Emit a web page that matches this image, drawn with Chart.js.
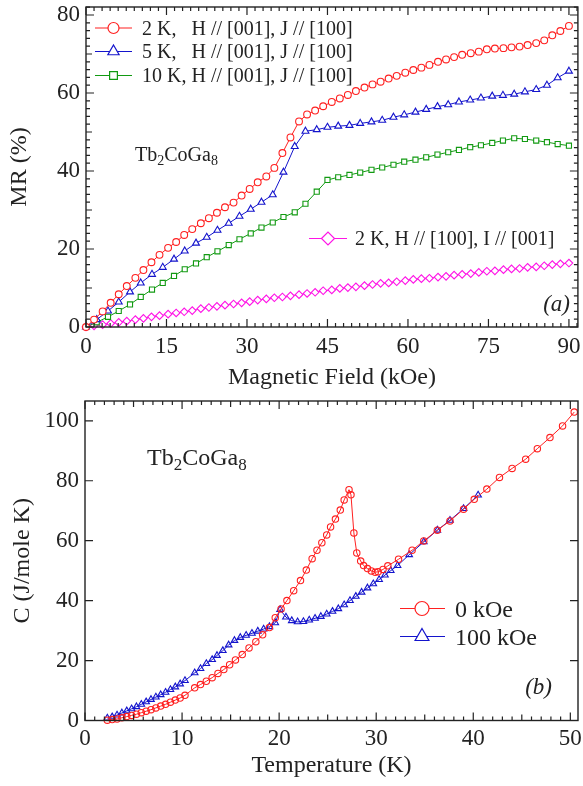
<!DOCTYPE html>
<html><head><meta charset="utf-8">
<script src="https://cdn.jsdelivr.net/npm/chart.js@4.4.1/dist/chart.umd.min.js"></script>
<style>
html,body{margin:0;padding:0;background:#fff;}
#wrap{position:relative;width:583px;height:786px;overflow:hidden;}
#c1{position:absolute;left:0;top:0;}
#c2{position:absolute;left:0;top:395px;}
</style></head><body>
<div id="wrap"><canvas id="c1" width="583" height="395"></canvas><canvas id="c2" width="583" height="391"></canvas></div>
<script>
// ---------- Panel (a): magnetoresistance ----------
const fieldA = [0,1.5,3.1,4.6,6.1,7.6,9.2,10.7,12.2,13.7,15.3,16.8,18.3,19.8,21.4,22.9,24.4,25.9,27.5,29.0,30.5,32.0,33.6,35.1,36.6,38.1,39.7,41.2,42.7,44.2,45.8,47.3,48.8,50.3,51.9,53.4,54.9,56.4,57.9,59.5,61.0,62.5,64.0,65.6,67.1,68.6,70.1,71.7,73.2,74.7,76.2,77.8,79.3,80.8,82.3,83.9,85.4,86.9,88.4,90.0];
const fieldB = [0,2.0,4.1,6.1,8.2,10.2,12.3,14.3,16.4,18.4,20.5,22.5,24.5,26.6,28.6,30.7,32.7,34.8,36.8,38.9,40.9,43.0,45.0,47.0,49.1,51.1,53.2,55.2,57.3,59.3,61.4,63.4,65.5,67.5,69.5,71.6,73.6,75.7,77.7,79.8,81.8,83.9,85.9,87.9,90.0];
const mr2K = [0,1.9,4.0,6.2,8.4,10.5,12.6,14.6,16.6,18.5,20.3,21.8,23.6,25.1,26.6,27.9,29.3,30.7,31.9,33.7,35.4,37.1,38.6,40.8,44.6,48.6,52.7,54.5,55.5,56.6,57.7,58.6,59.5,60.5,61.4,62.2,62.9,63.7,64.4,65.2,65.9,66.5,67.2,68.0,68.6,69.2,69.8,70.2,70.6,71.2,71.4,71.5,71.7,71.9,72.3,72.8,73.5,74.8,75.9,77.2];
const mr5K = [0,1.9,4.1,6.4,9.0,11.3,13.5,15.3,17.4,19.5,21.5,23.0,24.8,26.6,28.4,30.2,32.0,33.9,39.7,46.3,50.2,50.6,51.2,51.5,51.7,52.2,52.6,53.0,53.8,54.4,55.1,55.8,56.5,57.0,57.7,58.2,58.7,59.2,59.4,59.7,60.3,60.9,62.0,63.9,65.6];
const mr10K = [0,1.2,2.6,4.1,5.8,7.7,9.6,11.3,13.1,14.8,16.3,17.9,19.4,21.0,22.5,24.0,25.5,26.8,28.2,29.4,31.6,34.7,37.7,38.4,39.0,39.6,40.3,40.9,41.6,42.4,42.9,43.5,44.2,44.8,45.4,46.1,46.6,47.2,47.8,48.4,48.2,47.8,47.4,46.9,46.5];
const mr2Kperp = [0,0.3,0.6,0.9,1.2,1.5,1.9,2.2,2.6,2.9,3.3,3.6,3.9,4.2,4.7,5.0,5.3,5.6,5.9,6.2,6.5,6.9,7.2,7.5,7.7,8.0,8.3,8.6,8.9,9.3,9.5,9.9,10.1,10.3,10.6,10.9,11.2,11.3,11.6,11.9,12.2,12.4,12.5,12.8,13.0,13.3,13.5,13.7,14.0,14.3,14.4,14.7,14.9,15.0,15.3,15.4,15.7,16.0,16.2,16.4];
const labelsA = ['2 K,   H // [001], J // [100]', '5 K,   H // [001], J // [100]', '10 K, H // [001], J // [100]', '2 K, H // [100], I // [001]'];
const xTicksA = [0,15,30,45,60,75,90];
const yTicksA = [0,20,40,60,80];
const xTitleA = 'Magnetic Field (kOe)';
const yTitleA = 'MR (%)';
const panelA = '(a)';

// ---------- Panel (b): specific heat ----------
const tempZero = [2.3,2.8,3.3,3.8,4.3,4.8,5.3,5.8,6.3,6.8,7.3,7.8,8.3,8.8,9.3,9.8,10.3,11.3,11.9,12.5,13.1,13.7,14.3,14.9,15.5,16.2,16.9,17.6,18.3,19.0,19.6,20.2,20.8,21.5,22.2,22.8,23.4,23.9,24.4,24.9,25.3,25.8,26.3,26.7,27.2,27.4,27.7,28.0,28.4,28.7,29.1,29.5,29.9,30.2,30.7,31.2,32.3,33.7,34.9,36.3,37.6,39.0,40.1,41.4,42.7,44.0,45.4,46.6,47.9,49.2,50.4];
const cZero = [0.1,0.3,0.5,0.9,1.3,1.7,2.1,2.6,3.1,3.6,4.2,4.8,5.4,6.1,6.8,7.5,8.4,10.9,12.0,13.1,14.3,15.7,17.0,18.6,20.2,22.0,24.2,26.3,28.6,31.0,34.3,37.2,40.0,43.3,46.7,50.2,54.0,56.8,59.3,61.9,64.6,67.2,70.2,73.6,77.0,75.3,62.6,55.9,53.2,51.7,50.7,49.9,49.5,49.6,50.4,51.6,53.8,56.8,59.9,63.5,66.6,70.5,73.8,77.2,81.1,84.1,87.2,90.7,94.4,98.3,102.9];
const tempHigh = [2.3,2.8,3.3,3.8,4.3,4.8,5.3,5.8,6.3,6.8,7.3,7.8,8.3,8.8,9.3,9.8,10.3,11.3,11.9,12.5,13.1,13.6,14.2,14.8,15.4,16.0,16.6,17.2,17.8,18.4,19.0,19.6,20.1,20.7,21.3,21.9,22.5,23.1,23.7,24.3,24.9,25.5,26.1,26.7,27.3,27.9,28.5,29.1,29.7,30.3,30.9,31.5,32.2,33.4,34.9,36.3,37.6,39.0,40.5];
const cHigh = [0.8,1.2,1.8,2.5,3.2,3.9,4.6,5.4,6.2,7.0,7.8,8.6,9.4,10.3,11.2,12.2,13.3,15.9,17.3,19.0,20.3,21.7,23.3,25.2,26.7,27.7,28.4,29.1,29.8,30.5,31.3,32.6,37.0,34.5,33.3,32.9,33.0,33.5,34.1,34.7,35.5,36.4,37.3,38.6,40.0,41.4,42.8,44.2,45.6,47.0,48.5,50.0,51.7,55.3,59.6,63.5,66.8,70.7,75.2];
const labelsB = ['0 kOe', '100 kOe'];
const xTicksB = [0,10,20,30,40,50];
const yTicksB = [0,20,40,60,80,100];
const xTitleB = 'Temperature (K)';
const yTitleB = 'C (J/mole K)';
const panelB = '(b)';

const formulaParts = [['Tb',0],['2',1],['CoGa',0],['8',1]];

// ---------- styling ----------
const INK = '#222';
const RED = '#ff2020', BLUE = '#1414cc', GREEN = '#129a12', MAG = '#ff14e6';
const FONT = '"Liberation Serif", "Times New Roman", serif';

function pts(xs, ys){ return xs.map((x,i)=>({x:x, y:ys[i]})); }

function frameTicks(o){
  return { id:'frameTicks', afterDatasetsDraw(chart){
    const ctx = chart.ctx, a = chart.chartArea, xs = chart.scales.x, ys = chart.scales.y;
    const isMul = (v,s)=> s && Math.abs(v/s - Math.round(v/s)) < 1e-6;
    ctx.save();
    ctx.strokeStyle = INK; ctx.lineWidth = 1.2;
    ctx.beginPath();
    for (let k = 0; k*o.xMinor <= o.xEnd + 1e-9; k++){
      const v = k*o.xMinor;
      const len = isMul(v,o.xMajor) ? 8 : (isMul(v,o.xMid) ? 6 : 4);
      const p = xs.getPixelForValue(v);
      ctx.moveTo(p, a.bottom); ctx.lineTo(p, a.bottom - len);
      ctx.moveTo(p, a.top); ctx.lineTo(p, a.top + len);
    }
    for (let k = 0; k*o.yMinor <= o.yEnd + 1e-9; k++){
      const v = k*o.yMinor;
      const len = isMul(v,o.yMajor) ? 8 : (isMul(v,o.yMid) ? 6 : 4);
      const p = ys.getPixelForValue(v);
      ctx.moveTo(a.left, p); ctx.lineTo(a.left + len, p);
      ctx.moveTo(a.right, p); ctx.lineTo(a.right - len, p);
    }
    ctx.stroke();
    ctx.lineWidth = 1.4;
    ctx.strokeRect(a.left, a.top, a.right - a.left, a.bottom - a.top);
    ctx.restore();
  }};
}

function drawMarker(ctx, style, r, x, y, color, rot){
  ctx.save();
  ctx.strokeStyle = color; ctx.fillStyle = '#fff'; ctx.lineWidth = 1.2;
  Chart.helpers.drawPoint(ctx, {pointStyle: style, radius: r, rotation: rot||0, borderWidth: 1.2}, x, y);
  ctx.restore();
}

function legendItem(ctx, x1, x2, xm, y, color, style, r, text, xt, size){
  ctx.save();
  ctx.strokeStyle = color; ctx.lineWidth = 1.2;
  ctx.beginPath(); ctx.moveTo(x1, y); ctx.lineTo(x2, y); ctx.stroke();
  drawMarker(ctx, style, r, xm, y, color);
  ctx.fillStyle = INK; ctx.font = size + 'px ' + FONT;
  ctx.textBaseline = 'alphabetic'; ctx.textAlign = 'left';
  ctx.fillText(text, xt, y + size*0.34);
  ctx.restore();
}

function drawFormula(ctx, x, base, size){
  ctx.save(); ctx.fillStyle = INK; ctx.textBaseline = 'alphabetic'; ctx.textAlign = 'left';
  let cx = x;
  for (const [t, sub] of formulaParts){
    ctx.font = (sub ? Math.round(size*0.7) : size) + 'px ' + FONT;
    ctx.fillText(t, cx, base + (sub ? size*0.22 : 0));
    cx += ctx.measureText(t).width;
  }
  ctx.restore();
}

const annotA = { id:'annotA', afterDraw(chart){
  const ctx = chart.ctx;
  legendItem(ctx, 95, 132, 113.5, 28, RED, 'circle', 5.5, labelsA[0], 142, 20);
  legendItem(ctx, 95, 132, 113.5, 51.5, BLUE, 'triangle', 6.5, labelsA[1], 142, 20);
  legendItem(ctx, 95, 132, 113.5, 75.5, GREEN, 'rect', 5.5, labelsA[2], 142, 20);
  legendItem(ctx, 309, 347, 328, 238.5, MAG, 'rectRot', 6.5, labelsA[3], 355, 20);
  drawFormula(ctx, 135, 160.5, 20);
  ctx.save(); ctx.fillStyle = INK; ctx.font = 'italic 23px ' + FONT; ctx.textAlign = 'right';
  ctx.fillText(panelA, 570, 310.5); ctx.restore();
}};

const annotB = { id:'annotB', afterDraw(chart){
  const ctx = chart.ctx;
  legendItem(ctx, 400, 445, 422, 213.5, RED, 'circle', 7, labelsB[0], 455, 24);
  legendItem(ctx, 400, 445, 422, 241.5, BLUE, 'triangle', 8, labelsB[1], 455, 24);
  drawFormula(ctx, 147, 70, 24);
  ctx.save(); ctx.fillStyle = INK; ctx.font = 'italic 23px ' + FONT; ctx.textAlign = 'right';
  ctx.fillText(panelB, 552, 299); ctx.restore();
}};

function ds(data, color, style, r, fill){
  return { data, borderColor: color, backgroundColor: fill, borderWidth: 1,
    pointStyle: style, pointRadius: r, pointBorderWidth: 1.1, pointBorderColor: color,
    pointBackgroundColor: fill, pointHoverRadius: r, tension: 0, clip: false, showLine: true };
}

function scalesFor(o){
  return {
    x: { type:'linear', min:o.xMin, max:o.xMax,
      afterBuildTicks: s => { s.ticks = o.xTicks.map(v=>({value:v})); },
      afterFit: s => { s.height = o.xH; s.paddingLeft = 0; s.paddingRight = 0; s.paddingTop = 0; s.paddingBottom = 0; },
      grid:{ display:false, drawTicks:false }, border:{ display:false },
      ticks:{ autoSkip:false, maxRotation:0, padding:o.xPad, color:INK, font:{ family:FONT, size:23 } },
      title:{ display:true, text:o.xTitle, color:INK, font:{ family:FONT, size:24 }, padding:{ top:0, bottom:o.xTitlePad } } },
    y: { type:'linear', min:o.yMin, max:o.yMax,
      afterBuildTicks: s => { s.ticks = o.yTicks.map(v=>({value:v})); },
      afterFit: s => { s.width = o.yW; s.paddingLeft = 0; s.paddingRight = 0; s.paddingTop = 0; s.paddingBottom = 0; },
      grid:{ display:false, drawTicks:false }, border:{ display:false },
      ticks:{ autoSkip:false, padding:6, color:INK, font:{ family:FONT, size:23 } },
      title:{ display:true, text:o.yTitle, color:INK, font:{ family:FONT, size:24 }, padding:{ top:o.yTitlePad, bottom:0 } } }
  };
}

const common = { responsive:false, animation:false, devicePixelRatio:1,
  plugins:{ legend:{ display:false }, tooltip:{ enabled:false } }, events:[] };

new Chart(document.getElementById('c1'), {
  type:'line',
  data:{ datasets:[
    ds(pts(fieldA, mr2K), RED, 'circle', 3.4, '#fff'),
    ds(pts(fieldB, mr5K), BLUE, 'triangle', 4, '#fff'),
    ds(pts(fieldB, mr10K), GREEN, 'rect', 3.6, '#fff'),
    ds(pts(fieldA, mr2Kperp), MAG, 'rectRot', 3.8, '#fff')
  ]},
  options: Object.assign({}, common, {
    layout:{ padding:{ left:0, right:4, top:7, bottom:0 } },
    scales: scalesFor({ xMin:0, xMax:91.67, yMin:0, yMax:82.05, xTicks:xTicksA, yTicks:yTicksA,
      xH:68, yW:86, xPad:6, xTitle:xTitleA, yTitle:yTitleA, xTitlePad:3, yTitlePad:5 })
  }),
  plugins:[ frameTicks({ xMinor:1.5, xMajor:15, xMid:0, xEnd:91.5, yMinor:2, yMajor:20, yMid:10, yEnd:82 }), annotA ]
});

new Chart(document.getElementById('c2'), {
  type:'line',
  data:{ datasets:[
    ds(pts(tempZero, cZero), RED, 'circle', 3.2, 'rgba(0,0,0,0)'),
    ds(pts(tempHigh, cHigh), BLUE, 'triangle', 3.8, 'rgba(0,0,0,0)')
  ]},
  options: Object.assign({}, common, {
    layout:{ padding:{ left:0, right:5, top:6, bottom:0 } },
    scales: scalesFor({ xMin:0, xMax:50.79, yMin:0, yMax:106.6, xTicks:xTicksB, yTicks:yTicksB,
      xH:65.5, yW:85, xPad:5, xTitle:xTitleB, yTitle:yTitleB, xTitlePad:6, yTitlePad:8 })
  }),
  plugins:[ frameTicks({ xMinor:1, xMajor:10, xMid:5, xEnd:50.7, yMinor:20, yMajor:20, yMid:0, yEnd:106 }), annotB ]
});
</script>
</body></html>
